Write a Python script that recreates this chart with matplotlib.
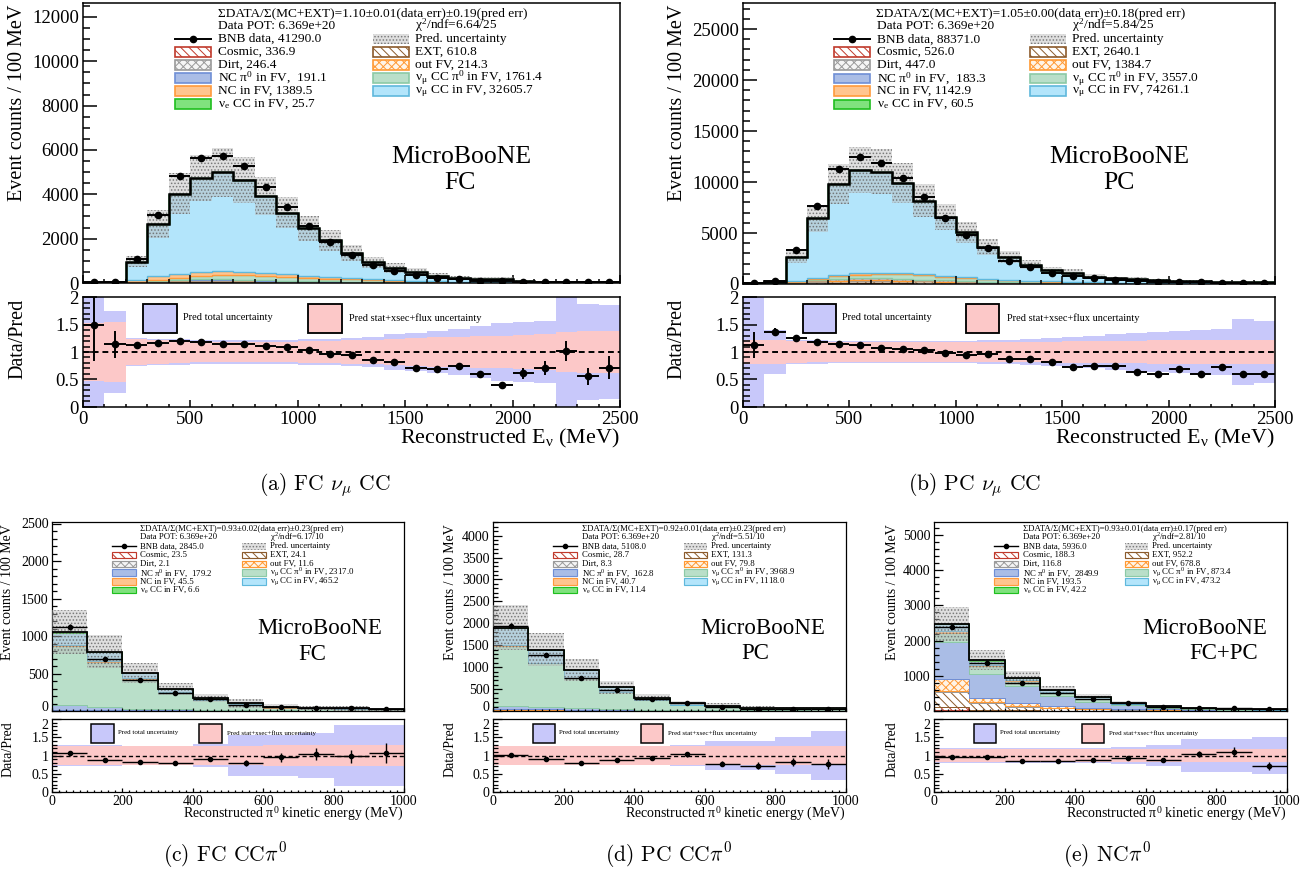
import numpy as np
import matplotlib
matplotlib.use('Agg')
import matplotlib.pyplot as plt
from matplotlib.patches import Rectangle
from matplotlib.lines import Line2D
from matplotlib.ticker import MultipleLocator, FuncFormatter

plt.rcParams['font.family'] = ['Liberation Serif', 'DejaVu Serif']
plt.rcParams['mathtext.fontset'] = 'stix'
plt.rcParams['hatch.linewidth'] = 0.7

# ---------------- (a) FC numu CC, 100 MeV bins 0-2500
a_edges = np.arange(0, 2501, 100)
a_data = [30, 65, 1080, 3080, 4830, 5620, 5750, 5300, 4330, 3450, 2560, 1850, 1270,
          790, 560, 360, 220, 160, 110, 70, 55, 45, 50, 30, 35]
a_cosmic = [2, 3, 10, 22, 30, 35, 35, 32, 28, 24, 20, 16, 13, 10, 8, 7, 6, 5, 5, 4, 4, 4, 3, 3, 3]
a_ext = [15, 12, 20, 35, 48, 55, 56, 52, 46, 40, 34, 28, 23, 19, 16, 14, 12, 11, 10, 9, 9, 8, 8, 8, 8]
a_dirt = [1, 2, 10, 20, 25, 27, 26, 23, 20, 17, 14, 11, 9, 7, 6, 5, 4, 3, 3, 3, 2, 2, 2, 2, 2]
a_outfv = [0, 1, 8, 17, 22, 24, 24, 21, 18, 15, 12, 10, 8, 6, 5, 4, 3, 3, 2, 2, 2, 2, 2, 2, 2]
a_ncpi0 = [0, 1, 6, 14, 19, 21, 21, 19, 16, 14, 11, 9, 8, 6, 5, 4, 4, 3, 3, 2, 2, 2, 2, 2, 2]
a_ccpi0 = [0, 0, 5, 40, 100, 150, 190, 210, 200, 180, 155, 125, 100, 78, 60, 45, 35, 27, 20, 15,
           11, 8, 6, 5, 4]
a_nc = [1, 3, 60, 150, 180, 180, 170, 150, 125, 100, 80, 60, 45, 33, 24, 17, 12, 8, 6, 4, 3, 2, 2, 2, 2]
a_numucc = [1, 35, 845, 2357, 3601, 4230, 4477, 4141, 3482, 2773, 2134, 1666, 1143, 768, 565,
            416, 241, 155, 136, 135, 56, 35, 24, 30, 26]
a_nuecc = [0, 0, 0, 0, 0, 1, 1, 1, 1, 2, 2, 2, 2, 2, 2, 2, 2, 1, 1, 1, 1, 1, 0, 0, 0]
a_ratio_err = [0.67, 0.25, 0.03, 0.02, 0.02, 0.02, 0.02, 0.02, 0.02, 0.02, 0.025, 0.025, 0.03,
               0.03, 0.035, 0.04, 0.04, 0.06, 0.06, 0.05, 0.1, 0.13, 0.18, 0.15, 0.21]
a_tot_err = [1.0, 0.75, 0.25, 0.24, 0.23, 0.22, 0.22, 0.22, 0.22, 0.22, 0.23, 0.24, 0.26, 0.28,
             0.32, 0.35, 0.38, 0.42, 0.47, 0.52, 0.55, 0.57, 1.0, 0.87, 0.85]
a_sxf_err = [0.52, 0.55, 0.23, 0.21, 0.2, 0.19, 0.19, 0.19, 0.19, 0.19, 0.2, 0.2, 0.21, 0.22,
             0.24, 0.26, 0.27, 0.28, 0.29, 0.3, 0.31, 0.33, 0.37, 0.38, 0.38]
a_legend = ['41290.0', '336.9', '610.8', '246.4', '214.3', '191.1', '1761.4', '1389.5', '32605.7', '25.7']
a_header = 'ΣDATA/Σ(MC+EXT)=1.10±0.01(data err)±0.19(pred err)'
a_chi2 = '6.64/25'

# ---------------- (b) PC numu CC
b_edges = np.arange(0, 2501, 100)
b_data = [80, 300, 3300, 7600, 11300, 12500, 11900, 10400, 8500, 6500, 4800, 3500, 2300,
          1650, 1100, 800, 550, 400, 300, 220, 200, 150, 130, 100, 90]
b_cosmic = [5, 8, 25, 45, 60, 65, 62, 55, 45, 35, 27, 20, 15, 12, 9, 7, 6, 5, 4, 4, 3, 3, 2, 2, 2]
b_ext = [40, 45, 90, 170, 230, 260, 260, 240, 210, 180, 150, 120, 100, 80, 65, 55, 45, 40, 35,
         30, 28, 25, 24, 22, 20]
b_dirt = [2, 4, 20, 40, 50, 52, 50, 45, 38, 30, 24, 18, 14, 11, 9, 7, 6, 5, 4, 4, 3, 3, 3, 2, 2]
b_outfv = [5, 15, 60, 130, 170, 180, 170, 150, 125, 100, 80, 60, 45, 35, 27, 20, 15, 12, 10, 8,
           7, 6, 5, 4, 4]
b_ncpi0 = [0, 1, 6, 14, 19, 21, 21, 19, 16, 13, 11, 9, 7, 6, 5, 4, 3, 3, 2, 2, 2, 2, 2, 1, 1]
b_ccpi0 = [0, 1, 15, 90, 220, 330, 400, 430, 410, 370, 310, 250, 200, 155, 120, 90, 70, 52, 40,
           30, 22, 16, 12, 9, 7]
b_nc = [1, 5, 60, 130, 160, 160, 150, 130, 105, 85, 65, 48, 36, 27, 20, 14, 10, 7, 5, 4, 3, 2, 2, 2, 2]
b_numucc = [18, 140, 2364, 5821, 8915, 10090, 9903, 8832, 7220, 5749, 4382, 3117, 2193, 1567,
            1083, 911, 575, 414, 374, 283, 220, 192, 130, 124, 111]
b_nuecc = [0, 0, 0, 1, 2, 3, 3, 4, 4, 4, 4, 4, 4, 4, 3, 3, 3, 3, 2, 2, 2, 1, 1, 1, 1]
b_ratio_err = [0.23, 0.06, 0.02, 0.015, 0.015, 0.015, 0.015, 0.015, 0.015, 0.015, 0.015, 0.02,
               0.02, 0.02, 0.025, 0.025, 0.03, 0.035, 0.035, 0.035, 0.04, 0.04, 0.05, 0.05, 0.05]
b_tot_err = [1.0, 0.4, 0.22, 0.21, 0.2, 0.2, 0.2, 0.2, 0.2, 0.2, 0.2, 0.21, 0.22, 0.24, 0.26,
             0.28, 0.3, 0.32, 0.34, 0.37, 0.38, 0.4, 0.42, 0.6, 0.57]
b_sxf_err = [0.22, 0.22, 0.2, 0.19, 0.18, 0.18, 0.18, 0.18, 0.18, 0.18, 0.18, 0.18, 0.18, 0.19,
             0.19, 0.2, 0.2, 0.2, 0.2, 0.21, 0.21, 0.21, 0.22, 0.22, 0.22]
b_legend = ['88371.0', '526.0', '2640.1', '447.0', '1384.7', '183.3', '3557.0', '1142.9', '74261.1', '60.5']
b_header = 'ΣDATA/Σ(MC+EXT)=1.05±0.00(data err)±0.18(pred err)'
b_chi2 = '5.84/25'

# ---------------- (c) FC CC pi0, 100 MeV bins 0-1000
c_edges = np.arange(0, 1001, 100)
c_data = [1120, 690, 415, 235, 155, 85, 55, 45, 35, 25]
c_cosmic = [5, 4, 3, 3, 2, 2, 1, 1, 1, 1]
c_ext = [3, 3, 3, 3, 2, 2, 2, 2, 2, 2]
c_dirt = [0.5, 0.4, 0.3, 0.2, 0.2, 0.1, 0.1, 0.1, 0.1, 0.1]
c_outfv = [3, 2.5, 2, 1.5, 1, 0.6, 0.4, 0.3, 0.2, 0.1]
c_ncpi0 = [70, 45, 25, 15, 9, 6, 4, 2, 2, 1]
c_ccpi0 = [779, 605, 395, 225, 129, 78, 39, 30, 25, 16]
c_nc = [15, 12, 7, 5, 3, 1.5, 1, 0.5, 0.3, 0.2]
c_numucc = [170, 120, 70, 40, 25, 15, 10, 7, 5, 3]
c_nuecc = [1.5, 1.3, 1, 0.8, 0.6, 0.5, 0.4, 0.2, 0.2, 0.1]
c_ratio_err = [0.04, 0.03, 0.03, 0.03, 0.06, 0.08, 0.12, 0.17, 0.18, 0.28]
c_tot_err = [0.28, 0.28, 0.27, 0.27, 0.32, 0.56, 0.56, 0.62, 0.83, 0.83]
c_sxf_err = [0.25, 0.27, 0.26, 0.25, 0.27, 0.27, 0.28, 0.29, 0.3, 0.3]
c_legend = ['2845.0', '23.5', '24.1', '2.1', '11.6', '179.2', '2317.0', '45.5', '465.2', '6.6']
c_header = 'ΣDATA/Σ(MC+EXT)=0.93±0.02(data err)±0.23(pred err)'
c_chi2 = '6.17/10'

# ---------------- (d) PC CC pi0
d_edges = np.arange(0, 1001, 100)
d_data = [1940, 1270, 750, 470, 280, 185, 95, 55, 50, 45]
d_cosmic = [6, 5, 4, 3, 3, 2, 2, 1.5, 1.5, 1.2]
d_ext = [20, 18, 16, 14, 13, 12, 11, 10, 9, 8]
d_dirt = [2, 1.6, 1.3, 1, 0.8, 0.6, 0.4, 0.3, 0.2, 0.1]
d_outfv = [25, 18, 12, 8, 6, 4, 3, 2, 1, 1]
d_ncpi0 = [55, 40, 25, 15, 10, 7, 5, 3, 2, 1]
d_ccpi0 = [1377, 1001, 692, 394, 208, 117, 80, 46, 40, 43]
d_nc = [14, 10, 6, 4, 2.5, 1.5, 1, 0.7, 0.5, 0.5]
d_numucc = [400, 300, 180, 100, 60, 35, 20, 12, 7, 4]
d_nuecc = [3, 2.5, 2, 1.3, 0.9, 0.6, 0.4, 0.3, 0.2, 0.2]
d_ratio_err = [0.03, 0.03, 0.03, 0.03, 0.03, 0.06, 0.07, 0.09, 0.11, 0.13]
d_tot_err = [0.27, 0.27, 0.27, 0.27, 0.27, 0.3, 0.4, 0.4, 0.52, 0.68]
d_sxf_err = [0.25, 0.25, 0.25, 0.25, 0.25, 0.25, 0.25, 0.26, 0.26, 0.26]
d_legend = ['5108.0', '28.7', '131.3', '8.3', '79.8', '162.8', '3968.9', '40.7', '1118.0', '11.4']
d_header = 'ΣDATA/Σ(MC+EXT)=0.92±0.01(data err)±0.23(pred err)'
d_chi2 = '5.51/10'

# ---------------- (e) NC pi0 (FC+PC)
e_edges = np.arange(0, 1001, 100)
e_data = [2400, 1370, 790, 500, 350, 220, 120, 90, 75, 45]
e_cosmic = [100, 30, 15, 10, 8, 7, 6, 5, 4, 3]
e_ext = [440, 190, 110, 70, 45, 30, 22, 18, 15, 12]
e_dirt = [40, 25, 15, 10, 8, 6, 5, 3, 3, 2]
e_outfv = [320, 130, 80, 50, 35, 25, 15, 10, 8, 6]
e_ncpi0 = [1050, 690, 480, 280, 170, 90, 45, 25, 12, 8]
e_ccpi0 = [260, 200, 140, 100, 70, 45, 25, 15, 10, 8]
e_nc = [60, 45, 30, 20, 13, 9, 6, 4, 3, 3]
e_numucc = [194, 124, 64, 43, 49, 24, 12, 4, 12, 20]
e_nuecc = [10, 8, 6, 5, 4, 3, 2, 2, 1, 1]
e_ratio_err = [0.03, 0.03, 0.03, 0.03, 0.03, 0.05, 0.06, 0.09, 0.13, 0.12]
e_tot_err = [0.2, 0.2, 0.2, 0.2, 0.2, 0.22, 0.3, 0.45, 0.45, 0.5]
e_sxf_err = [0.17, 0.17, 0.17, 0.17, 0.17, 0.17, 0.18, 0.18, 0.18, 0.18]
e_legend = ['5936.0', '188.3', '952.2', '116.8', '678.8', '2849.9', '873.4', '193.5', '473.2', '42.2']
e_header = 'ΣDATA/Σ(MC+EXT)=0.93±0.01(data err)±0.17(pred err)'
e_chi2 = '2.81/10'

comp_names = ['Cosmic, ', 'EXT, ', 'Dirt, ', 'out FV, ',
              'NC π$^\\mathregular{0}$ in FV,  ',
              'ν$_\\mathregular{μ}$ CC π$^\\mathregular{0}$ in FV, ',
              'NC in FV, ',
              'ν$_\\mathregular{μ}$ CC in FV, ',
              'ν$_\\mathregular{e}$ CC in FV, ']

comp_styles = [
    dict(facecolor='white', edgecolor='#c0392b', hatch='\\\\\\\\', lw=1.8),
    dict(facecolor='white', edgecolor='#8b5a2b', hatch='\\\\\\\\', lw=1.0),
    dict(facecolor='#f5f5f5', edgecolor='#9a9a9a', hatch='xxxx', lw=1.0),
    dict(facecolor='#fff4e6', edgecolor='#ff9933', hatch='xxxx', lw=1.0),
    dict(facecolor='#aabde6', edgecolor='#6f8fd6', lw=1.0),
    dict(facecolor='#b9dfc9', edgecolor='#8ccaa6', lw=1.0),
    dict(facecolor='#ffc58f', edgecolor='#ff9a3c', lw=1.0),
    dict(facecolor='#b3e5fb', edgecolor='#5fb8dc', lw=1.0),
    dict(facecolor='#80e27e', edgecolor='#1fbf1f', lw=1.0),
]

W, H = 1312, 871
fig = plt.figure(figsize=(W / 100, H / 100), dpi=100)


def add_px_axes(l, t, r, b):
    return fig.add_axes([l / W, 1 - b / H, (r - l) / W, (b - t) / H])


TOP = dict(tick=13.5, leg=9.6, mb=18.5, rleg=7.5, ms=4.5, ylen=10, xlen=6, rxlen=5, frame=1.1,
           lw=1.0, lwtot=1.8, elw=1.4, pad=3, xlab=15.8, ylab=14.5, shift=False)
BOT = dict(tick=10, leg=6.3, mb=16.5, rleg=5, ms=3.0, ylen=6.5, xlen=2.5, rxlen=3, frame=0.9,
           lw=0.7, lwtot=1.3, elw=1.0, pad=2.5, xlab=10, ylab=10, shift=True)


def fmt_g(v, pos):
    return '%g' % v


def style_axis(ax, S, xmaj, xmin, ymaj, ymin, xlen):
    ax.xaxis.set_major_locator(MultipleLocator(xmaj))
    ax.xaxis.set_minor_locator(MultipleLocator(xmin))
    ax.yaxis.set_major_locator(MultipleLocator(ymaj))
    ax.yaxis.set_minor_locator(MultipleLocator(ymin))
    ax.yaxis.set_major_formatter(FuncFormatter(fmt_g))
    ax.xaxis.set_major_formatter(FuncFormatter(fmt_g))
    ax.tick_params(which='both', direction='in', top=False, right=False,
                   labelsize=S['tick'], width=S['frame'], pad=S['pad'])
    ax.tick_params(axis='y', which='major', length=S['ylen'])
    ax.tick_params(axis='y', which='minor', length=S['ylen'] / 2)
    ax.tick_params(axis='x', which='major', length=xlen)
    ax.tick_params(axis='x', which='minor', length=xlen / 2)
    for sp in ax.spines.values():
        sp.set_linewidth(S['frame'])


def align_ytick(ax, value, va):
    # nudge one y tick label so the main "0" and the ratio "2" do not collide
    locs = list(ax.yaxis.get_majorticklocs())
    ticks = ax.yaxis.get_major_ticks(len(locs))
    for loc, tk in zip(locs, ticks):
        if abs(loc - value) < 1e-9:
            tk.label1.set_verticalalignment(va)


def draw_panel(main_px, ratio_px, edges, comps, data, rerr, terr, serr, legend, header, chi2,
               tags, ymax, ymaj, ymin, xmaj, xmin, S):
    ax = add_px_axes(*main_px)
    rax = add_px_axes(*ratio_px)
    base = np.zeros(len(edges) - 1)
    for vals, st in zip(comps, comp_styles):
        vals = np.asarray(vals, float)
        kw = dict(st)
        kw['lw'] = st['lw'] * S['lw']
        ax.stairs(base + vals, edges, baseline=base.copy(), fill=True, **kw)
        base = base + vals
    total = base
    data = np.asarray(data, float)
    rerr = np.asarray(rerr, float)
    terr = np.asarray(terr, float)
    serr = np.asarray(serr, float)
    ratio = data / total
    centers = 0.5 * (edges[:-1] + edges[1:])
    half = 0.5 * np.diff(edges)

    unc_style = dict(facecolor=(0.72, 0.72, 0.72, 0.45), edgecolor=(0.4, 0.4, 0.4, 0.8),
                     hatch='.....', lw=0)
    ax.stairs(total * (1 + terr), edges, baseline=total * (1 - terr), fill=True, zorder=3,
              **unc_style)
    ax.stairs(total, edges, color='k', lw=S['lwtot'], zorder=4)
    ax.errorbar(centers, data, xerr=half, yerr=rerr * total, fmt='o', color='k', ms=S['ms'],
                elinewidth=S['elw'], capsize=0, zorder=5)
    ax.set_xlim(edges[0], edges[-1])
    ax.set_ylim(0, ymax)
    style_axis(ax, S, xmaj, xmin, ymaj, ymin, S['xlen'])
    ax.tick_params(labelbottom=False)

    # legend block
    T = ax.transAxes
    ax.text(0.54, 0.962, header, transform=T, ha='center', va='center', fontsize=S['leg'])
    ax.text(0.251, 0.918, 'Data POT: 6.369e+20', transform=T, ha='left', va='center',
            fontsize=S['leg'])
    ax.text(0.618, 0.918, 'χ$^\\mathregular{2}$/ndf=' + chi2, transform=T, ha='left',
            va='center', fontsize=S['leg'])
    rows = [0.871, 0.825, 0.779, 0.732, 0.686, 0.639]
    bh = 0.034
    cols = [(0.171, 0.238, 0.251), (0.54, 0.607, 0.618)]
    # data entry
    x0, x1, xt = cols[0]
    ax.add_line(Line2D([x0, x1], [rows[0], rows[0]], transform=T, color='k', lw=S['elw'],
                       clip_on=False))
    ax.plot([(x0 + x1) / 2], [rows[0]], 'o', color='k', ms=S['ms'], transform=T, clip_on=False)
    ax.text(xt, rows[0], 'BNB data, ' + legend[0], transform=T, va='center', fontsize=S['leg'])
    x0, x1, xt = cols[1]
    ax.add_patch(Rectangle((x0, rows[0] - bh / 2), x1 - x0, bh, transform=T, clip_on=False,
                           **unc_style))
    ax.text(xt, rows[0], 'Pred. uncertainty', transform=T, va='center', fontsize=S['leg'])
    for i in range(9):
        col = cols[i % 2]
        y = rows[1 + i // 2]
        st = dict(comp_styles[i])
        st['lw'] = 1.2 * S['lw']
        ax.add_patch(Rectangle((col[0], y - bh / 2), col[1] - col[0], bh, transform=T,
                               clip_on=False, **st))
        ax.text(col[2], y, comp_names[i] + legend[1 + i], transform=T, va='center',
                fontsize=S['leg'])
    for s, x, y in tags:
        ax.text(x, y, s, transform=T, ha='center', va='center', fontsize=S['mb'])

    # ratio panel
    rax.stairs(1 + terr, edges, baseline=1 - terr, fill=True, color='#c8c8fa', lw=0)
    rax.stairs(1 + serr, edges, baseline=1 - serr, fill=True, color='#fcc8c8', lw=0)
    rax.axhline(1, color='k', ls=(0, (3, 2)), lw=S['elw'])
    rax.errorbar(centers, ratio, xerr=half, yerr=rerr, fmt='o', color='k', ms=S['ms'],
                 elinewidth=S['elw'], capsize=0, zorder=5)
    rax.set_xlim(edges[0], edges[-1])
    rax.set_ylim(0, 2.0)
    style_axis(rax, S, xmaj, xmin, 0.5, 0.1, S['rxlen'])
    R = rax.transAxes
    rax.add_patch(Rectangle((0.112, 0.673), 0.063, 0.262, transform=R, facecolor='#c8c8fa',
                            edgecolor='k', lw=S['frame'] * 1.2, zorder=6))
    rax.text(0.187, 0.81, 'Pred total uncertainty', transform=R, va='center',
             fontsize=S['rleg'], zorder=6)
    rax.add_patch(Rectangle((0.419, 0.673), 0.063, 0.262, transform=R, facecolor='#fcc8c8',
                            edgecolor='k', lw=S['frame'] * 1.2, zorder=6))
    rax.text(0.496, 0.81, 'Pred stat+xsec+flux uncertainty', transform=R, va='center',
             fontsize=S['rleg'], zorder=6)

    if S['shift']:
        align_ytick(ax, 0.0, 'baseline')
        align_ytick(rax, 2.0, 'top')
    return ax, rax


def labels(xlabel, main_px, ratio_px, ylab_x, xlab_y, S):
    fig.text(ylab_x / W, 1 - (main_px[1] + 2) / H, 'Event counts / 100 MeV', rotation=90,
             ha='center', va='top', fontsize=S['ylab'])
    fig.text(ylab_x / W, 1 - (ratio_px[1] + 2) / H, 'Data/Pred', rotation=90,
             ha='center', va='top', fontsize=S['ylab'])
    fig.text(main_px[2] / W, 1 - xlab_y / H, xlabel, ha='right', va='center',
             fontsize=S['xlab'])


xlab_top = 'Reconstructed E$_\\mathregular{ν}$ (MeV)'
xlab_bot = 'Reconstructed π$^\\mathregular{0}$ kinetic energy (MeV)'

# panel positions in pixels: left, top, right, bottom
pa_m, pa_r = (83, 3, 620, 283), (83, 297, 620, 407)
pb_m, pb_r = (743, 3, 1275, 284), (743, 297, 1275, 407)
pc_m, pc_r = (52, 522, 404, 711), (52, 719, 404, 792)
pd_m, pd_r = (493, 522, 846, 711), (493, 719, 846, 792)
pe_m, pe_r = (934, 522, 1287, 711), (934, 719, 1287, 792)

draw_panel(pa_m, pa_r, a_edges,
           [a_cosmic, a_ext, a_dirt, a_outfv, a_ncpi0, a_ccpi0, a_nc, a_numucc, a_nuecc],
           a_data, a_ratio_err, a_tot_err, a_sxf_err, a_legend, a_header, a_chi2,
           [('MicroBooNE', 0.704, 0.45), ('FC', 0.702, 0.357)], 12630, 2000, 500, 500, 100, TOP)
draw_panel(pb_m, pb_r, b_edges,
           [b_cosmic, b_ext, b_dirt, b_outfv, b_ncpi0, b_ccpi0, b_nc, b_numucc, b_nuecc],
           b_data, b_ratio_err, b_tot_err, b_sxf_err, b_legend, b_header, b_chi2,
           [('MicroBooNE', 0.707, 0.452), ('PC', 0.707, 0.36)], 27550, 5000, 1000, 500, 100, TOP)
draw_panel(pc_m, pc_r, c_edges,
           [c_cosmic, c_ext, c_dirt, c_outfv, c_ncpi0, c_ccpi0, c_nc, c_numucc, c_nuecc],
           c_data, c_ratio_err, c_tot_err, c_sxf_err, c_legend, c_header, c_chi2,
           [('MicroBooNE', 0.76, 0.434), ('FC', 0.74, 0.3)], 2520, 500, 100, 200, 20, BOT)
draw_panel(pd_m, pd_r, d_edges,
           [d_cosmic, d_ext, d_dirt, d_outfv, d_ncpi0, d_ccpi0, d_nc, d_numucc, d_nuecc],
           d_data, d_ratio_err, d_tot_err, d_sxf_err, d_legend, d_header, d_chi2,
           [('MicroBooNE', 0.765, 0.434), ('PC', 0.743, 0.305)], 4310, 500, 100, 200, 20, BOT)
draw_panel(pe_m, pe_r, e_edges,
           [e_cosmic, e_ext, e_dirt, e_outfv, e_ncpi0, e_ccpi0, e_nc, e_numucc, e_nuecc],
           e_data, e_ratio_err, e_tot_err, e_sxf_err, e_legend, e_header, e_chi2,
           [('MicroBooNE', 0.768, 0.434), ('FC+PC', 0.82, 0.305)], 5370, 1000, 200, 200, 20, BOT)

labels(xlab_top, pa_m, pa_r, 18, 438, TOP)
labels(xlab_top, pb_m, pb_r, 677, 438, TOP)
labels(xlab_bot, pc_m, pc_r, 8, 814, BOT)
labels(xlab_bot, pd_m, pd_r, 450, 814, BOT)
labels(xlab_bot, pe_m, pe_r, 892, 814, BOT)

captions = [r'(a) FC $\nu_\mu$ CC', r'(b) PC $\nu_\mu$ CC', r'(c) FC CC$\pi^0$',
            r'(d) PC CC$\pi^0$', r'(e) NC$\pi^0$']
cap_pos = [(325, 485), (975, 485), (225, 855), (669, 855), (1107, 855)]
for txt, (cx, cy) in zip(captions, cap_pos):
    fig.text(cx / W, 1 - cy / H, txt, ha='center', va='center', fontsize=15.5,
             fontfamily='cmr10', math_fontfamily='cm')

fig.savefig('out.png', dpi=100)
